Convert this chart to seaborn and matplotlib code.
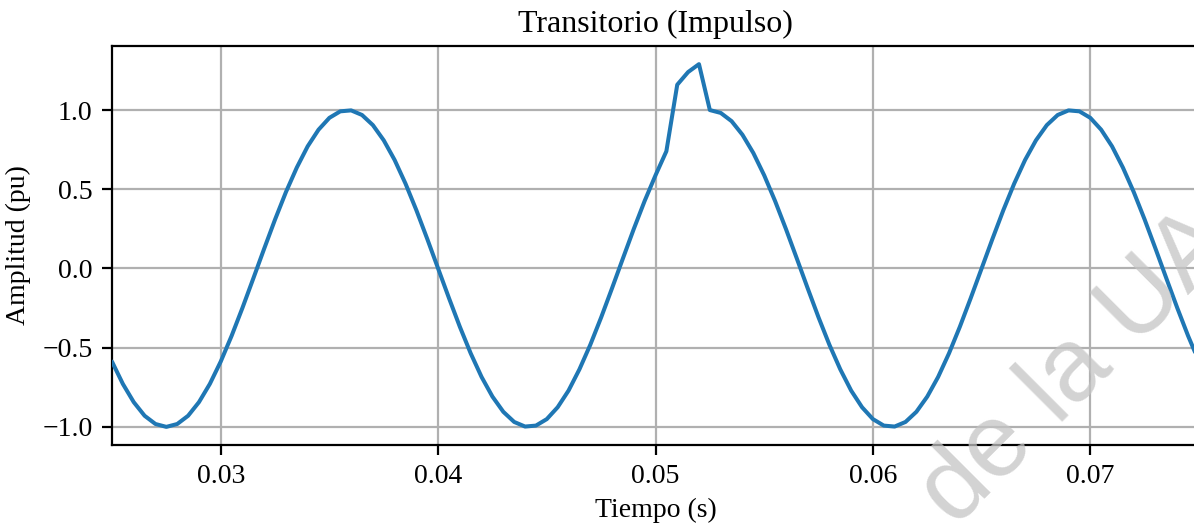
import numpy as np
import pandas as pd
import matplotlib
matplotlib.use("Agg")
import matplotlib.pyplot as plt
import seaborn as sns

# Time grid (s): sampling step 0.5 ms from 0.025 s
t_start = 0.025
t_step = 0.0005
# Amplitude (pu), one value per sample
amplitude = [
    -0.588, -0.729, -0.844, -0.930, -0.982, -1.000, -0.982, -0.930, -0.844, -0.729,
    -0.588, -0.426, -0.249, -0.063, 0.125, 0.309, 0.482, 0.637, 0.771, 0.876,
    0.951, 0.992, 0.998, 0.969, 0.905, 0.809, 0.685, 0.536, 0.368, 0.187,
    0.000, -0.187, -0.368, -0.536, -0.685, -0.809, -0.905, -0.969, -0.998, -0.992,
    -0.951, -0.876, -0.771, -0.637, -0.482, -0.309, -0.125, 0.063, 0.249, 0.426,
    0.588, 0.740, 1.160, 1.240, 1.290, 1.000, 0.982, 0.930, 0.844, 0.729,
    0.588, 0.426, 0.249, 0.063, -0.125, -0.309, -0.482, -0.637, -0.771, -0.876,
    -0.951, -0.992, -0.998, -0.969, -0.905, -0.809, -0.685, -0.536, -0.368, -0.187,
    0.000, 0.187, 0.368, 0.536, 0.685, 0.809, 0.905, 0.969, 0.998, 0.992,
    0.951, 0.876, 0.771, 0.637, 0.482, 0.309, 0.125, -0.063, -0.249, -0.426,
    -0.588, -0.729,
]
time = t_start + t_step * np.arange(len(amplitude))

x_ticks = [0.03, 0.04, 0.05, 0.06, 0.07]
y_ticks = [-1.0, -0.5, 0.0, 0.5, 1.0]
title = "Transitorio (Impulso)"
x_label = "Tiempo (s)"
y_label = "Amplitud (pu)"
watermark = "de la UA"

sns.set_style("ticks")
plt.rcParams["font.family"] = ["Liberation Serif", "DejaVu Serif"]
plt.rcParams["text.color"] = "black"
plt.rcParams["axes.labelcolor"] = "black"
plt.rcParams["xtick.color"] = "black"
plt.rcParams["ytick.color"] = "black"

df = pd.DataFrame({"t": time, "y": amplitude})

fig = plt.figure(figsize=(11.94, 5.27), dpi=100)
ax = fig.add_axes([112 / 1194, (527 - 445) / 527, (1199 - 112) / 1194, 399 / 527])

sns.lineplot(data=df, x="t", y="y", ax=ax, color="#1f77b4", linewidth=2.9, zorder=3)

ax.set_xlim(0.025, 0.075)
ax.set_ylim(-1.1145, 1.4045)
ax.set_xticks(x_ticks)
ax.set_xticklabels([f"{v:.2f}" for v in x_ticks])
ax.set_yticks(y_ticks)
ax.set_yticklabels([f"{v:.1f}".replace("-", "\u2212") for v in y_ticks])
ax.grid(True, color="#b0b0b0", linewidth=1.6)
ax.tick_params(labelsize=20, length=7, width=1.6, colors="black", labelcolor="black", pad=7)
for s in ax.spines.values():
    s.set_linewidth(1.6)
    s.set_color("black")

ax.set_title(title, fontsize=23, pad=10, color="black")
ax.set_xlabel(x_label, fontsize=20, labelpad=6, color="black")
ax.set_ylabel(y_label, fontsize=20, labelpad=8, color="black")

fig.text(1078 / 1194, 1 - 368 / 527, watermark, fontsize=75, color="#c4c4c4",
         alpha=0.75, rotation=45, rotation_mode="anchor", ha="center", va="center",
         family=["Liberation Sans", "DejaVu Sans"], zorder=10)

fig.savefig("out.png", dpi=100)
